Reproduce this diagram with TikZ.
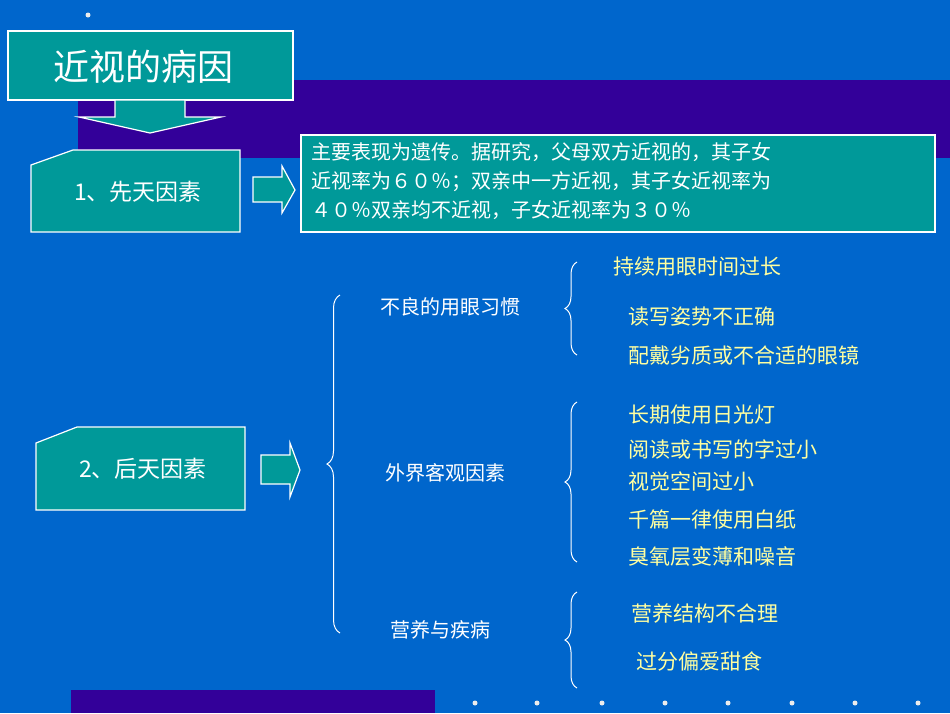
\documentclass[tikz,border=0pt]{standalone}
\usepackage{fontspec}
\setmainfont{Noto Sans CJK SC}
\usetikzlibrary{decorations.pathreplacing}
\definecolor{bg}{RGB}{0,102,204}
\definecolor{band}{RGB}{51,0,153}
\definecolor{teal}{RGB}{0,153,153}
\definecolor{pale}{RGB}{255,255,160}
\tikzset{
 box/.style={fill=teal,draw=white,line width=1.2pt},
 lbl/.style={text=white,font=\fontsize{20}{24}\selectfont,anchor=center},
 item/.style={text=pale,font=\fontsize{21}{25}\selectfont,anchor=west},
 brc/.style={draw=white,line width=1pt,decorate,decoration={brace,amplitude=#1}},
 dot/.style={fill=white!85!gray,draw=none}
}
\begin{document}
\begin{tikzpicture}[x=1pt,y=-1pt]
\useasboundingbox (0,0) rectangle (950,713);
\fill[bg] (0,0) rectangle (950,713);
\fill[band] (78,80) rectangle (950,158);
\fill[band] (71,690) rectangle (435,713);
\fill[dot] (88,15) circle (2.5);
\foreach \x in {475,537,602,665,728,792,855,918} \fill[dot] (\x,703) circle (2.5);
% title
\draw[box] (8,31) rectangle (293,100);
\node[text=white,font=\fontsize{36}{40}\selectfont] (title) at (143,67) {近视的病因};
\draw[box] (115,100) -- (185,100) -- (185,117) -- (221,117) -- (150,133) -- (79,117) -- (115,117) -- cycle;
% box 1
\draw[box] (31,165) -- (73,150) -- (240,150) -- (240,232) -- (31,232) -- cycle;
\node[lbl,font=\fontsize{23}{27}\selectfont] (b1) at (138,192) {1、先天因素};
\draw[box] (253,177) -- (282,177) -- (282,166) -- (295,190) -- (282,213) -- (282,202) -- (253,202) -- cycle;
\draw[box] (301,135) rectangle (935,232);
\node[text=white,font=\fontsize{20}{29}\selectfont,anchor=north west,align=left,inner sep=0pt] (desc) at (311,142) {主要表现为遗传。据研究，父母双方近视的，其子女\\近视率为６０％；双亲中一方近视，其子女近视率为\\ ４０％双亲均不近视，子女近视率为３０％};
% box 2
\draw[box] (36,443) -- (77,427) -- (245,427) -- (245,510) -- (36,510) -- cycle;
\node[lbl,font=\fontsize{23}{27}\selectfont] (b2) at (143,469) {2、后天因素};
\draw[box] (261,455) -- (290,455) -- (290,443) -- (300,470) -- (290,497) -- (290,484) -- (261,484) -- cycle;
% big brace
\draw[brc=13pt] (340,633) -- (340,295);
\node[lbl] (g1) at (450,307) {不良的用眼习惯};
\node[lbl] (g2) at (445,473) {外界客观因素};
\node[lbl] (g3) at (440,630) {营养与疾病};
% sub braces
\draw[brc=12pt] (577,355) -- (577,262);
\draw[brc=12pt] (577,562) -- (577,402);
\draw[brc=12pt] (577,688) -- (577,592);
\node[item] (i1) at (610,267) {持续用眼时间过长};
\node[item] (i2) at (625,317) {读写姿势不正确};
\node[item] (i3) at (625,356) {配戴劣质或不合适的眼镜};
\node[item] (i4) at (625,415) {长期使用日光灯};
\node[item] (i5) at (625,449) {阅读或书写的字过小};
\node[item] (i6) at (625,481) {视觉空间过小};
\node[item] (i7) at (625,520) {千篇一律使用白纸};
\node[item] (i8) at (625,557) {臭氧层变薄和噪音};
\node[item] (i9) at (628,613) {营养结构不合理};
\node[item] (i10) at (633,661) {过分偏爱甜食};
\end{tikzpicture}
\end{document}
